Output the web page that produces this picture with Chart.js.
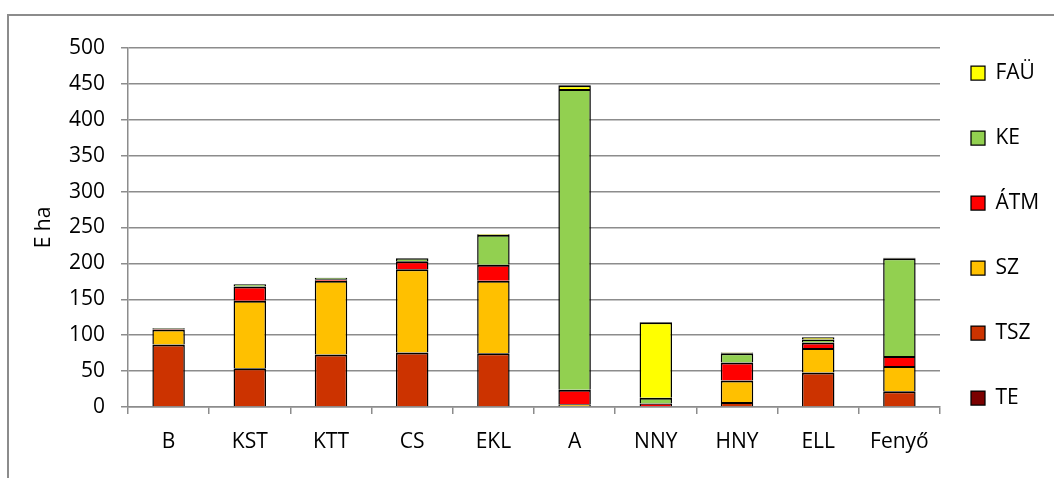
<!DOCTYPE html>
<html lang="hu">
<head>
    <meta charset="UTF-8">
    <title>E ha</title>
    <style>
        html, body { margin: 0; padding: 0; background: #fff; }
        #wrap { position: relative; width: 1054px; height: 478px; overflow: hidden; }
        /* grey frame, cut off at right and bottom like the original */
        #frame { position: absolute; left: 7px; top: 14px; width: 1200px; height: 600px; border: 2px solid #8c8c8c; box-sizing: border-box; }
        #chart { position: absolute; left: 0; top: 0; }
    </style>
</head>
<body>
    <div id="wrap">
        <div id="frame"></div>
        <canvas id="chart" width="1054" height="478"></canvas>
    </div>

    <script src="https://cdn.jsdelivr.net/npm/chart.js"></script>
    <script>
        // categories on the x axis
        const categories = ["B", "KST", "KTT", "CS", "EKL", "A", "NNY", "HNY", "ELL", "Fenyő"];

        // series, stacked from bottom to top (E ha)
        const te  = [0, 0, 0, 0, 0, 0, 0, 0, 0, 0];
        const tsz = [87, 54, 73, 76, 75, 0, 1, 7, 48, 22];
        const sz  = [21, 94, 103, 116, 101, 4, 0, 30, 34, 35];
        const atm = [1, 20, 2, 11, 22, 20, 4, 25, 8, 14];
        const ke  = [1, 3, 2, 4, 42, 419, 8, 13, 4, 136];
        const fau = [0, 0, 0, 0, 1, 5, 105, 1, 3, 1];

        const yTicks = [0, 50, 100, 150, 200, 250, 300, 350, 400, 450, 500];

        const fontFamily = "'Open Sans', sans-serif";
        const legendPad = 44;

        function serie(label, data, color) {
            return {
                label: label,
                data: data,
                backgroundColor: color,
                borderColor: "#000",
                // no bottom edge so segments share a single line
                borderWidth: { top: 2, left: 1.5, right: 1.5, bottom: 0 },
                borderSkipped: false,
                inflateAmount: 0,
                barPercentage: 0.4,
                categoryPercentage: 1
            };
        }

        // put the legend boxes at x = 971 whatever width chart.js gave it
        const legendShift = {
            id: "legendShift",
            afterLayout(chart) {
                const lg = chart.legend;
                const dx = 971 - legendPad - lg.left;
                lg.left += dx; lg.right += dx;
            }
        };

        new Chart(document.getElementById("chart"), {
            type: "bar",
            data: {
                labels: categories,
                datasets: [
                    serie("TE", te, "#7B0000"),
                    serie("TSZ", tsz, "#CC3300"),
                    serie("SZ", sz, "#FFC000"),
                    serie("ÁTM", atm, "#FF0000"),
                    serie("KE", ke, "#92D050"),
                    serie("FAÜ", fau, "#FFFF00")
                ]
            },
            plugins: [legendShift],
            options: {
                responsive: false,
                animation: false,
                layout: { padding: { top: 0, bottom: 7, left: 20, right: 0 } },
                plugins: {
                    tooltip: { enabled: false },
                    // empty title only used as top spacer above the plot
                    title: {
                        display: true,
                        text: "",
                        fullSize: false,
                        font: { size: 12 },
                        padding: { top: 0, bottom: 48 - 14.4 }
                    },
                    legend: {
                        position: "right",
                        reverse: true,
                        maxWidth: 114,
                        labels: {
                            boxWidth: 14,
                            boxHeight: 14,
                            padding: legendPad,
                            color: "#000",
                            font: { family: fontFamily, size: 21 }
                        }
                    }
                },
                scales: {
                    x: {
                        stacked: true,
                        afterFit(scale) { scale.height = 64; },
                        grid: {
                            drawOnChartArea: false,
                            drawTicks: true,
                            tickLength: 7,
                            color: "#8c8c8c",
                            lineWidth: 1.5
                        },
                        border: { display: true, color: "#8c8c8c", width: 1.5 },
                        ticks: { color: "#000", padding: 15, font: { family: fontFamily, size: 21 } }
                    },
                    y: {
                        stacked: true,
                        min: 0,
                        max: 500,
                        afterFit(scale) { scale.width = 108; },
                        afterBuildTicks(scale) { scale.ticks = yTicks.map(v => ({ value: v })); },
                        grid: {
                            color: "#8c8c8c",
                            lineWidth: 1.5,
                            tickLength: 7
                        },
                        border: { display: true, color: "#8c8c8c", width: 1.5 },
                        ticks: { color: "#000", padding: 16, font: { family: fontFamily, size: 21 } },
                        title: {
                            display: true,
                            text: "E ha",
                            color: "#000",
                            padding: { top: 11, bottom: 0 },
                            font: { family: fontFamily, size: 21 }
                        }
                    }
                }
            }
        });
    </script>
</body>
</html>
